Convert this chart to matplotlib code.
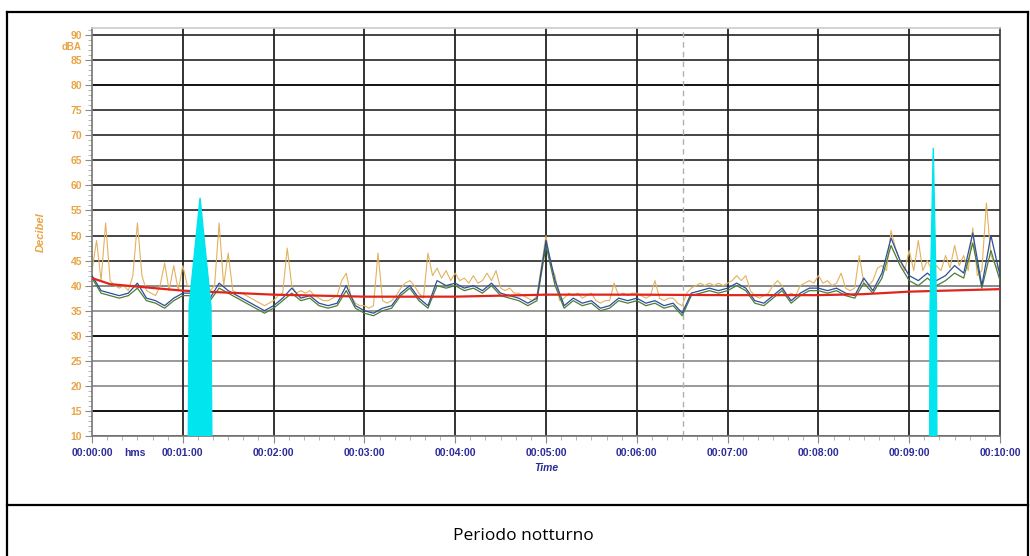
import numpy as np
import matplotlib
matplotlib.use('Agg')
import matplotlib.pyplot as plt
from matplotlib.lines import Line2D

# valori (dBA), passo 0.1 min per blu/verde, 0.05 min per arancio
blue = [42.0, 39.0, 38.5, 38.0, 38.5, 40.5, 37.5, 37.0, 36.0, 37.5,
        38.5, 38.5, 39.0, 37.5, 40.5, 39.0, 38.0, 37.0, 36.0, 35.0,
        36.0, 37.5, 39.5, 37.5, 38.0, 36.5, 36.0, 36.5, 40.0, 36.0,
        35.0, 34.5, 35.5, 36.0, 38.5, 40.0, 37.5, 36.0, 41.0, 40.0,
        40.5, 39.5, 40.0, 39.0, 40.5, 38.5, 38.0, 37.5, 36.5, 37.5,
        49.0, 41.0, 36.0, 37.5, 36.5, 37.0, 35.5, 36.0, 37.5, 37.0,
        37.5, 36.5, 37.0, 36.0, 36.5, 34.5, 38.5, 39.0, 39.5, 39.0,
        39.5, 40.5, 39.5, 37.0, 36.5, 38.0, 39.5, 37.0, 38.5, 39.5,
        39.5, 39.0, 39.5, 38.5, 38.0, 41.5, 39.0, 42.5, 49.5, 45.0,
        42.0, 41.0, 42.5, 41.0, 42.0, 44.0, 42.5, 50.5, 40.0, 50.0,
        42.0]
green = [41.5, 38.5, 38.0, 37.5, 38.0, 39.5, 37.0, 36.5, 35.5, 37.0,
         38.0, 38.0, 38.5, 37.0, 39.5, 38.5, 37.5, 36.5, 35.5, 34.5,
         35.5, 37.0, 38.5, 37.0, 37.5, 36.0, 35.5, 36.0, 39.0, 35.5,
         34.5, 34.0, 35.0, 35.5, 38.0, 39.5, 37.0, 35.5, 40.0, 39.5,
         40.0, 39.0, 39.5, 38.5, 40.0, 38.0, 37.5, 37.0, 36.0, 37.0,
         48.0, 40.0, 35.5, 37.0, 36.0, 36.5, 35.0, 35.5, 37.0, 36.5,
         37.0, 36.0, 36.5, 35.5, 36.0, 34.0, 38.0, 38.5, 39.0, 38.5,
         39.0, 40.0, 39.0, 36.5, 36.0, 37.5, 39.0, 36.5, 38.0, 39.0,
         39.0, 38.5, 39.0, 38.0, 37.5, 40.5, 38.5, 41.5, 48.0, 44.0,
         41.0, 40.0, 41.5, 40.0, 41.0, 42.5, 41.5, 48.5, 39.5, 47.0,
         41.0]
orange = [43, 49, 41, 52.5, 41, 40, 39.5, 40, 39, 42,
          52.5, 42, 39, 38.5, 38, 40, 44.5, 39, 44, 39,
          44, 40, 40, 40, 40, 39, 39, 40, 52.5, 40,
          46.5, 39, 38.5, 38.5, 38, 37.5, 37, 36.5, 36, 36.5,
          37, 38, 38.5, 47.5, 40, 38.5, 39, 38.5, 39, 38,
          37.5, 37, 37, 37.5, 38, 41, 42.5, 38, 36.5, 36,
          36, 35.5, 36, 46.5, 37, 36.5, 37, 38, 39.5, 40.5,
          41, 40, 38.5, 37.5, 46.5, 42, 43.5, 41.5, 43, 41,
          42.5, 41, 41.5, 40.5, 42, 40.5, 41, 42.5, 41, 43,
          39.5, 39, 39.5, 38.5, 38.5, 38, 37.5, 37, 38, 44,
          50, 44, 42, 37, 37.5, 38.5, 38, 38.5, 37.5, 38,
          38.5, 37, 36.5, 37, 37, 40.5, 38, 38.5, 38, 38.5,
          38.5, 38, 37.5, 38, 41, 37.5, 37, 37.5, 37.5, 36.5,
          36, 38.5, 39.5, 40, 40.5, 40, 40.5, 40, 40.5, 40,
          40.5, 41, 42, 41, 42, 39, 38, 37.5, 38, 38.5,
          40, 41, 40, 38, 38.5, 38, 40, 40.5, 41, 40.5,
          42, 40.5, 41, 40, 40.5, 42.5, 39.5, 39, 39.5, 46,
          40.5, 40, 41, 43.5, 44, 43, 51, 47.5, 45, 43,
          47, 43, 49, 43, 45, 43, 44, 43, 46, 43.5,
          48, 44, 46, 43, 51.5, 42, 43, 56.5, 46, 44,
          43]
# Leq progressivo (linea rossa)
red_t = [0, 0.2, 0.5, 1, 2, 3, 4, 5, 6, 7, 8, 8.5, 9, 10]
red = [41.5, 40.3, 39.8, 39.0, 38.2, 37.8, 37.8, 38.2, 38.2, 38.1, 38.1, 38.3, 38.8, 39.3]
# eventi mascherati (azzurro)
cyan1_t = [1.06, 1.07, 1.19, 1.31, 1.32]
cyan1 = [10, 36, 57.5, 36, 10]
cyan2_t = [9.225, 9.23, 9.265, 9.30, 9.305]
cyan2 = [10, 36, 67.5, 36, 10]

minutes = list(range(0, 11))
xlabels = ['00:%02d:00' % m for m in minutes]
yticks = list(range(10, 95, 5))
grid_col = {10: '#555555', 15: '#111111', 20: '#999999', 25: '#999999', 30: '#111111',
            35: '#999999', 40: '#8a8a8a', 45: '#444444', 50: '#444444', 55: '#444444',
            60: '#444444', 65: '#444444', 70: '#444444', 75: '#444444', 80: '#111111',
            85: '#444444', 90: '#444444'}

t_blue = np.linspace(0, 10, len(blue))
t_orange = np.linspace(0, 10, len(orange))

fig = plt.figure(figsize=(10.3, 5.56), dpi=100)
ax = fig.add_axes([92 / 1030, 120 / 556, 908 / 1030, 408 / 556])

for v in yticks:
    ax.axhline(v, color=grid_col[v], lw=1.4, zorder=1)
for m in minutes[1:-1]:
    ax.axvline(m, color='#222222', lw=1.3, zorder=1)
ax.axvline(6.51, color='#b0b0b0', lw=1, ls=(0, (4, 3)), zorder=1)

ax.plot(t_orange, orange, color='#e3b25e', lw=0.8, zorder=2)
ax.plot(t_blue, green, color='#4e7d34', lw=0.9, zorder=3)
ax.plot(t_blue, blue, color='#2b4f9c', lw=0.9, zorder=3)
ax.plot(red_t, red, color='#e0251c', lw=1.6, zorder=4)
ax.fill(cyan1_t, cyan1, color='#00e5ee', zorder=5)
ax.fill(cyan2_t, cyan2, color='#00e5ee', zorder=5)

ax.set_xlim(0, 10)
ax.set_ylim(10, 91.4)
ax.set_xticks(minutes)
ax.set_xticklabels(xlabels, color='#2b2b9a', fontsize=7.5, fontweight='bold',
                   family='Liberation Sans')
ax.set_xticks(np.linspace(0, 10, 61), minor=True)
ax.set_yticks(yticks)
ax.set_yticklabels([str(v) for v in yticks], color='#e8a444', fontsize=7.5,
                   fontweight='bold', family='Liberation Sans')
ax.set_yticks(range(10, 92), minor=True)
ax.tick_params(axis='both', which='major', length=5, color='#888888', pad=2)
ax.tick_params(axis='both', which='minor', length=3, color='#aaaaaa')
ax.tick_params(axis='x', pad=4)

for s in ['left', 'bottom']:
    ax.spines[s].set_color('#777777')
ax.spines['right'].set_color('#333333')
ax.spines['top'].set_color('#cccccc')
for s in ax.spines.values():
    s.set_linewidth(1.2)

ax.text(0.47, -0.042, 'hms', transform=ax.get_xaxis_transform(), ha='center', va='center',
        color='#2b2b9a', fontsize=7.5, fontweight='bold', family='Liberation Sans')
ax.text(-0.012, 0.953, 'dBA', transform=ax.transAxes, ha='right', va='center',
        color='#e8a444', fontsize=7, fontweight='bold', family='Liberation Sans')
ax.set_xlabel('Time', color='#2b2b9a', fontsize=7.5, fontweight='bold', style='italic',
              family='Liberation Sans', labelpad=3)
ax.set_ylabel('Decibel', color='#e8a444', fontsize=8, fontweight='bold', style='italic',
              family='Liberation Sans', labelpad=18)

# cornice della tabella
for xy in [([7, 7], [12, 556]), ([7, 1028], [12, 12]), ([1028, 1028], [12, 556]),
           ([7, 1028], [505, 505])]:
    fig.add_artist(Line2D([x / 1030 for x in xy[0]], [1 - y / 556 for y in xy[1]],
                          color='black', lw=1.6))
fig.text(523 / 1030, 1 - 536 / 556, 'Periodo notturno', ha='center', va='center',
         fontsize=12.5, family='Open Sans')

fig.savefig('out.png', dpi=100)
